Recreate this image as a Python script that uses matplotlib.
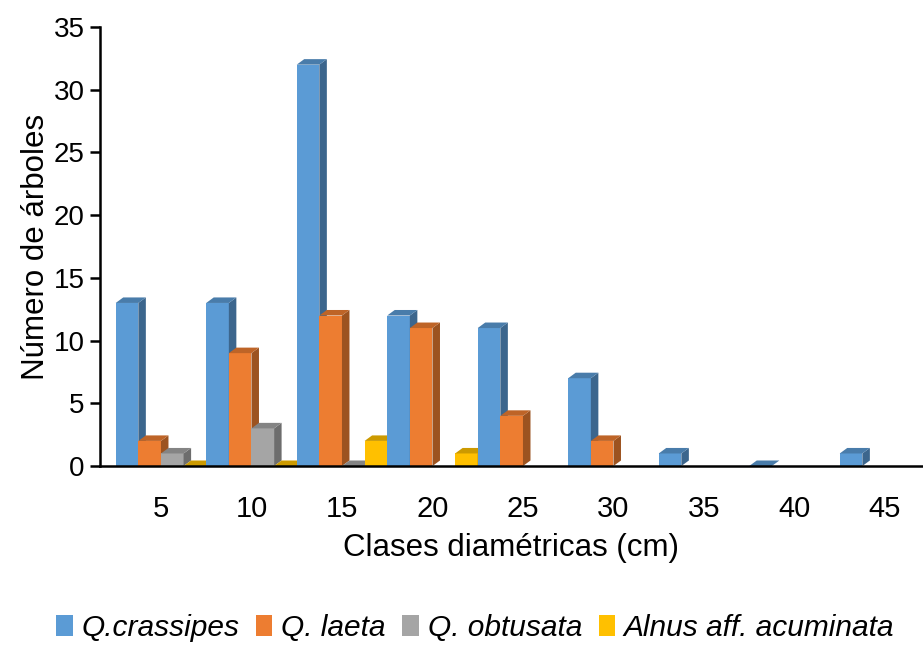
import numpy as np
import matplotlib.pyplot as plt
from matplotlib.patches import Polygon, Patch
from matplotlib.colors import to_rgb

plt.rcParams['font.family'] = ['Liberation Sans', 'DejaVu Sans']

clases = ["5", "10", "15", "20", "25", "30", "35", "40", "45"]
especies = ["Q.crassipes", "Q. laeta", "Q. obtusata", "Alnus aff. acuminata"]
nan = np.nan
crassipes = [13, 13, 32, 12, 11, 7, 1, 0, 1]
laeta = [2, 9, 12, 11, 4, 2, nan, nan, nan]
obtusata = [1, 3, 0, nan, nan, nan, nan, nan, nan]
alnus = [0, 0, 2, 1, nan, nan, nan, nan, nan]
series = [crassipes, laeta, obtusata, alnus]
colores = ["#5B9BD5", "#ED7D31", "#A5A5A5", "#FFC000"]


def shade(c, f):
    r, g, b = to_rgb(c)
    return (r * f, g * f, b * f)


fig = plt.figure(figsize=(9.23, 6.45), dpi=100)
ax = fig.add_axes([0.1083, 0.2775, 0.8917, 0.6806])

w = 0.25
dx = 0.083   # depth in x (category units)
dy = 0.44    # depth in y (data units)
x = np.arange(len(clases))

z = 2
for i in range(len(clases)):
    for k, s in enumerate(series):
        h = s[i]
        if np.isnan(h):
            continue
        x0 = x[i] - 0.5 + k * w
        x1 = x0 + w
        col = colores[k]
        if h > 0:
            ax.bar(x0, h, width=w, align='edge', color=col, zorder=z, linewidth=0)
            side = Polygon([(x1, 0), (x1 + dx, dy), (x1 + dx, h + dy), (x1, h)],
                           closed=True, facecolor=shade(col, 0.66), edgecolor='none', zorder=z)
            ax.add_patch(side)
        top = Polygon([(x0, h), (x1, h), (x1 + dx, h + dy), (x0 + dx, h + dy)],
                      closed=True, facecolor=shade(col, 0.8), edgecolor='none', zorder=z)
        ax.add_patch(top)
        z += 1

ax.set_xlim(-0.674, 8.42)
ax.set_ylim(0, 35)
ax.set_yticks(np.arange(0, 36, 5))
ax.set_xticks(x)
ax.set_xticklabels(clases)
ax.tick_params(axis='y', labelsize=20, length=7, width=1.8, pad=4)
ax.tick_params(axis='x', labelsize=21, length=0, pad=21)
for sp in ['top', 'right']:
    ax.spines[sp].set_visible(False)
for sp in ['left', 'bottom']:
    ax.spines[sp].set_linewidth(1.8)
    ax.spines[sp].set_zorder(100)
ax.set_xlabel("Clases diamétricas (cm)", fontsize=22.5, labelpad=7)
ax.set_ylabel("Número de árboles", fontsize=22.5, labelpad=2)

handles = [Patch(facecolor=c, edgecolor='none') for c in colores]
leg = fig.legend(handles, especies, loc='center', bbox_to_anchor=(0.515, 0.026), ncol=4,
                 frameon=False, handlelength=0.55, handleheight=0.7, handletextpad=0.3,
                 columnspacing=0.55, prop={'size': 21.5, 'style': 'italic'})

fig.savefig("out.png", dpi=100)
